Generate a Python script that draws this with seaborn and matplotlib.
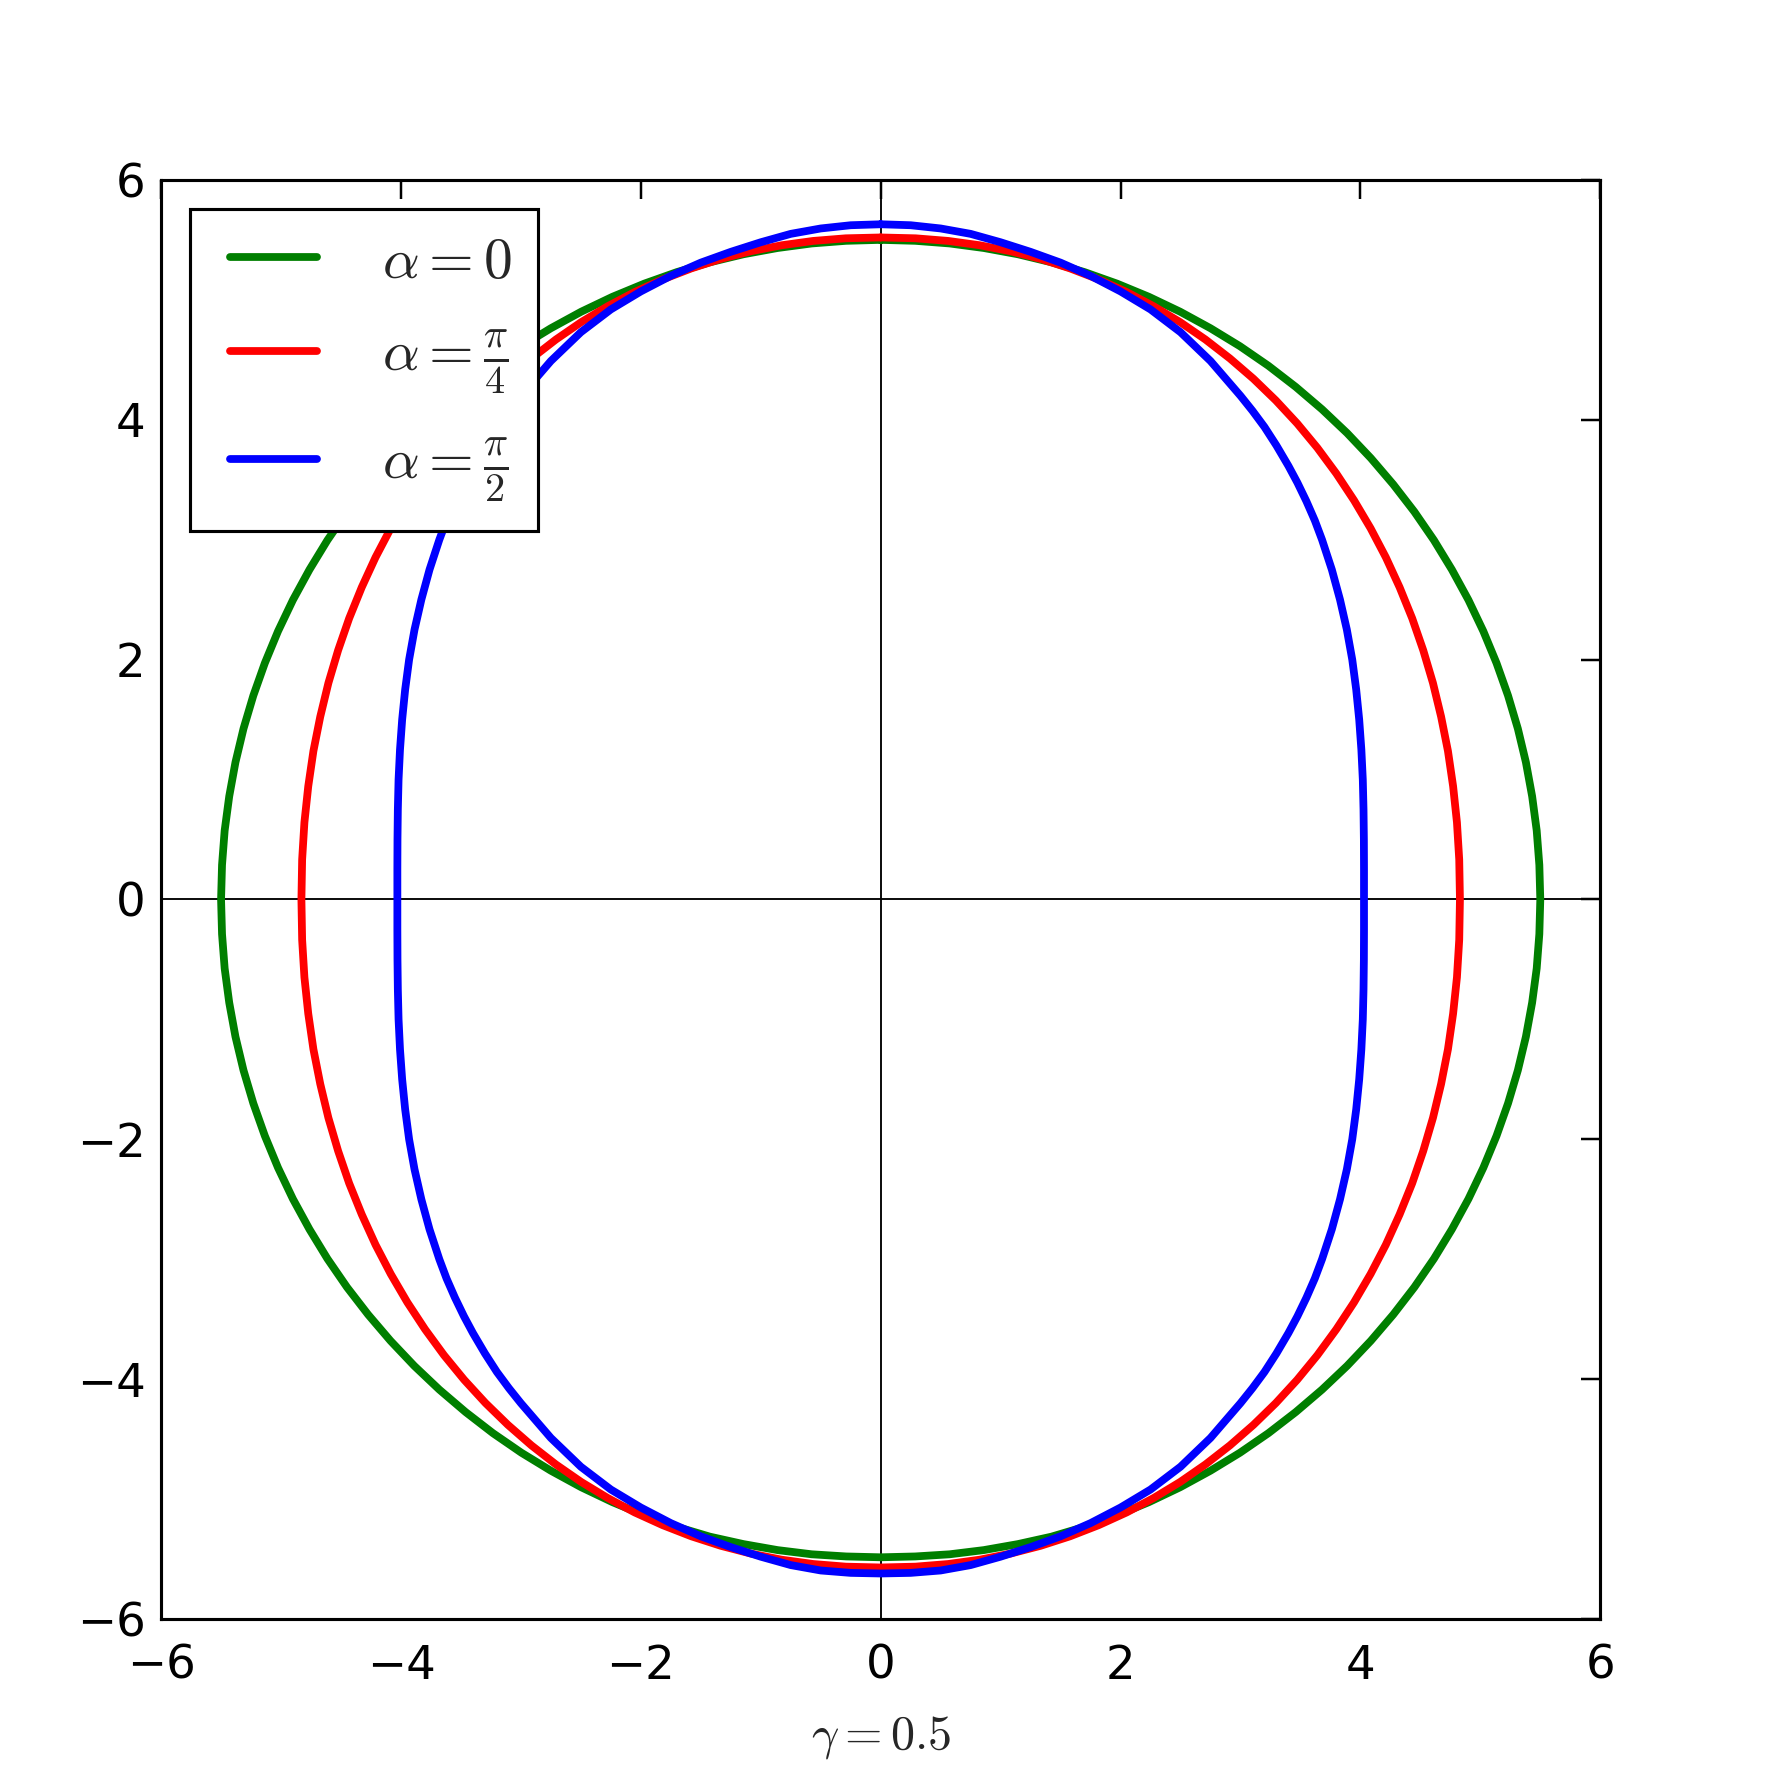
import numpy as np
import matplotlib
matplotlib.use("Agg")
import matplotlib.pyplot as plt
from matplotlib.lines import Line2D
from matplotlib.legend_handler import HandlerLine2D
import seaborn as sns
import pandas as pd

# curve points, per quadrant, going clockwise from the top
# green (alpha = 0)
green_x_ur = [0.000, 0.288, 0.575, 0.860, 1.144, 1.424, 1.700, 1.971, 2.237, 2.497, 2.750, 2.996, 3.233, 3.461, 3.680, 3.889,
              4.087, 4.274, 4.450, 4.613, 4.763, 4.901, 5.025, 5.135, 5.231, 5.313, 5.380, 5.432, 5.470, 5.492, 5.500]
green_y_ur = [5.500, 5.492, 5.470, 5.432, 5.380, 5.313, 5.231, 5.135, 5.025, 4.901, 4.763, 4.613, 4.450, 4.274, 4.087, 3.889,
              3.680, 3.461, 3.233, 2.996, 2.750, 2.497, 2.237, 1.971, 1.700, 1.424, 1.144, 0.860, 0.575, 0.288, 0.000]
green_x_lr = [5.492, 5.470, 5.432, 5.380, 5.313, 5.231, 5.135, 5.025, 4.901, 4.763, 4.613, 4.450, 4.274, 4.087, 3.889,
              3.680, 3.461, 3.233, 2.996, 2.750, 2.497, 2.237, 1.971, 1.700, 1.424, 1.144, 0.860, 0.575, 0.288, 0.000]
green_y_lr = [-0.288, -0.575, -0.860, -1.144, -1.424, -1.700, -1.971, -2.237, -2.497, -2.750, -2.996, -3.233, -3.461, -3.680, -3.889,
              -4.087, -4.274, -4.450, -4.613, -4.763, -4.901, -5.025, -5.135, -5.231, -5.313, -5.375, -5.425, -5.460, -5.478, -5.485]
green_x_ll = [-0.288, -0.575, -0.860, -1.144, -1.424, -1.700, -1.971, -2.237, -2.497, -2.750, -2.996, -3.233, -3.461, -3.680, -3.889,
              -4.087, -4.274, -4.450, -4.613, -4.763, -4.901, -5.025, -5.135, -5.231, -5.313, -5.380, -5.432, -5.470, -5.492, -5.500]
green_y_ll = [-5.478, -5.460, -5.425, -5.375, -5.313, -5.231, -5.135, -5.025, -4.901, -4.763, -4.613, -4.450, -4.274, -4.087, -3.889,
              -3.680, -3.461, -3.233, -2.996, -2.750, -2.497, -2.237, -1.971, -1.700, -1.424, -1.144, -0.860, -0.575, -0.288, 0.000]
green_x_ul = [-5.492, -5.470, -5.432, -5.380, -5.313, -5.231, -5.135, -5.025, -4.901, -4.763, -4.613, -4.450, -4.274, -4.087, -3.889,
              -3.680, -3.461, -3.233, -2.996, -2.750, -2.497, -2.237, -1.971, -1.700, -1.424, -1.144, -0.860, -0.575, -0.288, 0.000]
green_y_ul = [0.288, 0.575, 0.860, 1.144, 1.424, 1.700, 1.971, 2.237, 2.497, 2.750, 2.996, 3.233, 3.461, 3.680, 3.889,
              4.087, 4.274, 4.450, 4.613, 4.763, 4.901, 5.025, 5.135, 5.231, 5.313, 5.380, 5.432, 5.470, 5.492, 5.500]

# red (alpha = pi/4)
red_x_ur = [0.000, 0.291, 0.563, 0.826, 1.083, 1.334, 1.579, 1.818, 2.051, 2.277, 2.497, 2.708, 2.912, 3.108, 3.295, 3.473,
            3.641, 3.799, 3.947, 4.085, 4.212, 4.327, 4.432, 4.524, 4.605, 4.673, 4.730, 4.773, 4.805, 4.824, 4.830]
red_y_ur = [5.520, 5.513, 5.491, 5.455, 5.405, 5.341, 5.262, 5.170, 5.065, 4.946, 4.814, 4.669, 4.511, 4.342, 4.161, 3.969,
            3.766, 3.552, 3.328, 3.095, 2.853, 2.603, 2.344, 2.078, 1.805, 1.524, 1.238, 0.944, 0.643, 0.333, 0.000]
red_x_lr = [4.824, 4.805, 4.773, 4.730, 4.673, 4.605, 4.524, 4.432, 4.327, 4.212, 4.085, 3.947, 3.799, 3.641, 3.473,
            3.295, 3.108, 2.912, 2.708, 2.497, 2.277, 2.051, 1.818, 1.579, 1.334, 1.083, 0.826, 0.563, 0.291, 0.000]
red_y_lr = [-0.336, -0.649, -0.952, -1.249, -1.538, -1.821, -2.097, -2.366, -2.626, -2.879, -3.123, -3.359, -3.584, -3.800, -4.005,
            -4.199, -4.381, -4.552, -4.711, -4.857, -4.990, -5.111, -5.217, -5.310, -5.389, -5.454, -5.505, -5.541, -5.563, -5.570]
red_x_ll = [-0.291, -0.563, -0.826, -1.083, -1.334, -1.579, -1.818, -2.051, -2.277, -2.497, -2.708, -2.912, -3.108, -3.295, -3.473,
            -3.641, -3.799, -3.947, -4.085, -4.212, -4.327, -4.432, -4.524, -4.605, -4.673, -4.730, -4.773, -4.805, -4.824, -4.830]
red_y_ll = [-5.563, -5.541, -5.505, -5.454, -5.389, -5.310, -5.217, -5.111, -4.990, -4.857, -4.711, -4.552, -4.381, -4.199, -4.005,
            -3.800, -3.584, -3.359, -3.123, -2.879, -2.626, -2.366, -2.097, -1.821, -1.538, -1.249, -0.952, -0.649, -0.336, 0.000]
red_x_ul = [-4.824, -4.805, -4.773, -4.730, -4.673, -4.605, -4.524, -4.432, -4.327, -4.212, -4.085, -3.947, -3.799, -3.641, -3.473,
            -3.295, -3.108, -2.912, -2.708, -2.497, -2.277, -2.051, -1.818, -1.579, -1.334, -1.083, -0.826, -0.563, -0.291, 0.000]
red_y_ul = [0.333, 0.643, 0.944, 1.238, 1.524, 1.805, 2.078, 2.344, 2.603, 2.853, 3.095, 3.328, 3.552, 3.766, 3.969,
            4.161, 4.342, 4.511, 4.669, 4.814, 4.946, 5.065, 5.170, 5.262, 5.341, 5.405, 5.455, 5.491, 5.513, 5.520]

# blue (alpha = pi/2)
blue_x_ur = [0.000, 0.250, 0.500, 0.750, 1.000, 1.250, 1.500, 1.750, 2.000, 2.250, 2.500, 2.750, 3.000,
             3.100, 3.200, 3.300, 3.400, 3.475, 3.550, 3.620, 3.680,
             3.762, 3.830, 3.887, 3.932, 3.965, 3.990, 4.008, 4.020, 4.026, 4.029, 4.030, 4.030]
blue_y_ur = [5.630, 5.622, 5.595, 5.550, 5.480, 5.400, 5.310, 5.200, 5.070, 4.920, 4.730, 4.490, 4.200,
             4.075, 3.940, 3.785, 3.615, 3.475, 3.320, 3.160, 3.000,
             2.750, 2.500, 2.250, 2.000, 1.750, 1.500, 1.250, 1.000, 0.750, 0.500, 0.250, 0.000]
blue_x_lr = [4.030, 4.029, 4.026, 4.020, 4.008, 3.990, 3.965, 3.932, 3.887, 3.830, 3.762, 3.680,
             3.620, 3.550, 3.475, 3.400, 3.300, 3.200, 3.100, 3.000,
             2.750, 2.500, 2.250, 2.000, 1.750, 1.500, 1.250, 1.000, 0.750, 0.500, 0.250, 0.000]
blue_y_lr = [-0.250, -0.500, -0.750, -1.000, -1.250, -1.500, -1.750, -2.000, -2.250, -2.500, -2.750, -3.000,
             -3.160, -3.320, -3.475, -3.615, -3.785, -3.940, -4.075, -4.200,
             -4.490, -4.730, -4.920, -5.070, -5.200, -5.310, -5.400, -5.480, -5.550, -5.595, -5.615, -5.620]
blue_x_ll = [-0.250, -0.500, -0.750, -1.000, -1.250, -1.500, -1.750, -2.000, -2.250, -2.500, -2.750, -3.000,
             -3.100, -3.200, -3.300, -3.400, -3.475, -3.550, -3.620, -3.680,
             -3.762, -3.830, -3.887, -3.932, -3.965, -3.990, -4.008, -4.020, -4.026, -4.029, -4.030, -4.030]
blue_y_ll = [-5.615, -5.595, -5.550, -5.480, -5.400, -5.310, -5.200, -5.070, -4.920, -4.730, -4.490, -4.200,
             -4.075, -3.940, -3.785, -3.615, -3.475, -3.320, -3.160, -3.000,
             -2.750, -2.500, -2.250, -2.000, -1.750, -1.500, -1.250, -1.000, -0.750, -0.500, -0.250, 0.000]
blue_x_ul = [-4.030, -4.029, -4.026, -4.020, -4.008, -3.990, -3.965, -3.932, -3.887, -3.830, -3.762, -3.680,
             -3.620, -3.550, -3.475, -3.400, -3.300, -3.200, -3.100, -3.000,
             -2.750, -2.500, -2.250, -2.000, -1.750, -1.500, -1.250, -1.000, -0.750, -0.500, -0.250, 0.000]
blue_y_ul = [0.250, 0.500, 0.750, 1.000, 1.250, 1.500, 1.750, 2.000, 2.250, 2.500, 2.750, 3.000,
             3.160, 3.320, 3.475, 3.615, 3.785, 3.940, 4.075, 4.200,
             4.490, 4.730, 4.920, 5.070, 5.200, 5.310, 5.400, 5.480, 5.550, 5.595, 5.622, 5.630]

labels = [r'$\alpha=0$', r'$\alpha=\frac{\pi}{4}$', r'$\alpha=\frac{\pi}{2}$']
colors = ['#007f00', '#ff0000', '#0000ff']
ticks = [-6, -4, -2, 0, 2, 4, 6]
xlabel = r'$\gamma=0.5$'

green_x = green_x_ur + green_x_lr + green_x_ll + green_x_ul
green_y = green_y_ur + green_y_lr + green_y_ll + green_y_ul
red_x = red_x_ur + red_x_lr + red_x_ll + red_x_ul
red_y = red_y_ur + red_y_lr + red_y_ll + red_y_ul
blue_x = blue_x_ur + blue_x_lr + blue_x_ll + blue_x_ul
blue_y = blue_y_ur + blue_y_lr + blue_y_ll + blue_y_ul


class InsetLine(HandlerLine2D):
    # legend line starts a bit in from the frame, like the old classic legend
    def create_artists(self, legend, orig_handle, xdescent, ydescent,
                       width, height, fontsize, trans):
        arts = super().create_artists(legend, orig_handle, xdescent, ydescent,
                                      width, height, fontsize, trans)
        for a in arts:
            xd = np.asarray(a.get_xdata(), dtype=float)
            if len(xd) >= 2:
                xd = xd.copy()
                xd[0] += 4.5
                a.set_xdata(xd)
        return arts


sns.set_style("white")
plt.rcParams['font.family'] = ['DejaVu Sans']
plt.rcParams['mathtext.fontset'] = 'cm'

fig = plt.figure(figsize=(8, 8), dpi=223.75)
ax = fig.add_axes([0.09, 0.0955, 0.804, 0.804])

ax.axhline(0, color='black', lw=0.6, zorder=1)
ax.axvline(0, color='black', lw=0.6, zorder=1)

curves = [(green_x, green_y), (red_x, red_y), (blue_x, blue_y)]
for (cx, cy), lab, col in zip(curves, labels, colors):
    df = pd.DataFrame({"x": cx, "y": cy})
    sns.lineplot(data=df, x="x", y="y", sort=False, estimator=None,
                 color=col, lw=2.5, label=lab, ax=ax, zorder=2,
                 solid_joinstyle='round')

ax.set_xlim(-6, 6)
ax.set_ylim(-6, 6)
ax.set_xticks(ticks)
ax.set_yticks(ticks)
ax.set_ylabel("")
ax.set_xlabel(xlabel, fontsize=15.5, labelpad=8)
ax.tick_params(direction='in', top=True, right=True, length=6, width=0.8,
               colors='black', labelsize=15)
ax.tick_params(axis='x', pad=8)
ax.tick_params(axis='y', pad=5)
for sp in ax.spines.values():
    sp.set_color('black')
    sp.set_linewidth(1.0)

leg = ax.legend(loc='upper left', fontsize=18.5, fancybox=False, framealpha=1,
                edgecolor='black', handlelength=1.76, handletextpad=1.14,
                borderpad=0.45, labelspacing=0.68, borderaxespad=0.5,
                handler_map={Line2D: InsetLine()})
leg.get_frame().set_linewidth(1.0)
for line in leg.get_lines():
    line.set_linewidth(2.5)

fig.savefig("out.png", dpi=223.75)
